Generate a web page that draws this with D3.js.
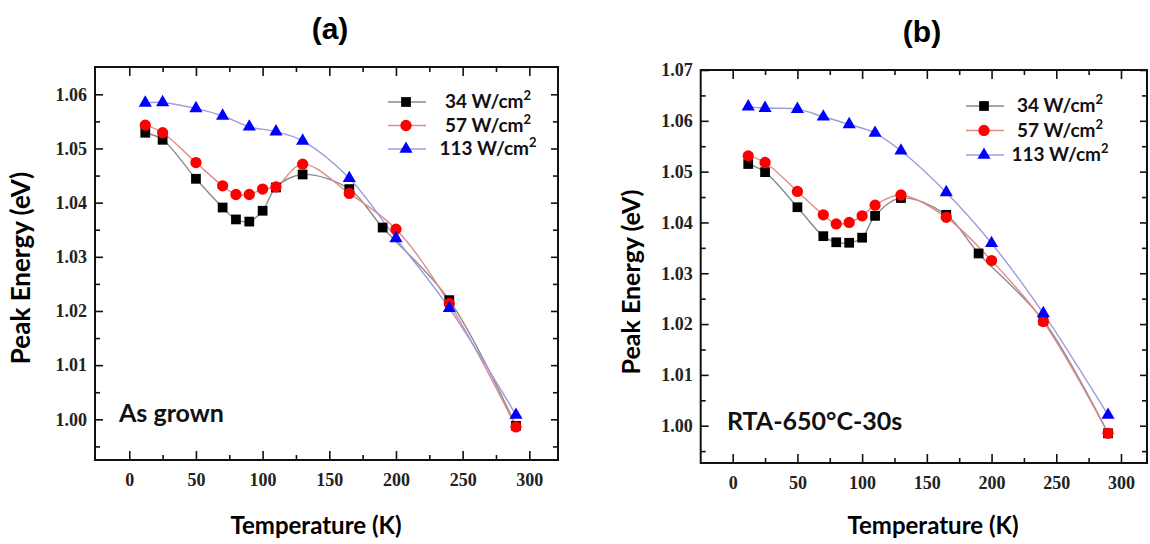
<!DOCTYPE html>
<html>
<head>
<meta charset="utf-8">
<script src="https://cdn.jsdelivr.net/npm/d3@7"></script>
<style>
  body { margin: 0; background: #fff; }
</style>
</head>
<body>
<div id="chart"></div>
<script>
// tick labels
const xTicks = [0, 50, 100, 150, 200, 250, 300];
const yTicksA = [1.00, 1.01, 1.02, 1.03, 1.04, 1.05, 1.06];
const yTicksB = [1.00, 1.01, 1.02, 1.03, 1.04, 1.05, 1.06, 1.07];
const powers = ["34", "57", "113"];

// (a) as grown
const tempA34 = [12, 25, 50, 70, 80, 90, 100, 110, 130, 165, 190, 240, 290];
const peakA34 = [1.0529, 1.0516, 1.0444, 1.0391, 1.0369, 1.0365, 1.0385, 1.0428, 1.0452, 1.0425, 1.0354, 1.0220, 0.9988];
const tempA57 = [12, 25, 50, 70, 80, 90, 100, 110, 130, 165, 200, 240, 290];
const peakA57 = [1.0543, 1.0529, 1.0474, 1.0431, 1.0415, 1.0415, 1.0425, 1.0429, 1.0471, 1.0417, 1.0351, 1.0214, 0.9986];
const tempA113 = [12, 25, 50, 70, 90, 110, 130, 165, 200, 240, 290];
const peakA113 = [1.0584, 1.0585, 1.0574, 1.0560, 1.0540, 1.0531, 1.0514, 1.0445, 1.0334, 1.0205, 1.0008];

// (b) RTA 650C 30s
const tempB34 = [12, 25, 50, 70, 80, 90, 100, 110, 130, 165, 190, 240, 290];
const peakB34 = [1.0515, 1.0499, 1.0430, 1.0373, 1.0361, 1.0360, 1.0370, 1.0413, 1.0448, 1.0415, 1.0339, 1.0207, 0.9985];
const tempB57 = [12, 25, 50, 70, 80, 90, 100, 110, 130, 165, 200, 240, 290];
const peakB57 = [1.0531, 1.0518, 1.0461, 1.0415, 1.0397, 1.0400, 1.0413, 1.0434, 1.0454, 1.0410, 1.0325, 1.0205, 0.9985];
const tempB113 = [12, 25, 50, 70, 90, 110, 130, 165, 200, 240, 290];
const peakB113 = [1.0628, 1.0625, 1.0623, 1.0608, 1.0593, 1.0576, 1.0541, 1.0459, 1.0359, 1.0221, 1.0021];

const zip = (t, e) => t.map((d, i) => ({T: d, E: e[i]}));

const styles = [
  {sym: d3.symbolSquare, size: 95, fill: "#000", line: "#8a8a8a"},
  {sym: d3.symbolCircle, size: 100, fill: "#ff0000", line: "#e08a8a"},
  {sym: d3.symbolTriangle, size: 75, fill: "#0000ff", line: "#9c9ce0"}
];

const svg = d3.select("#chart")
  .append("svg")
  .attr("width", 1150)
  .attr("height", 544)
  .style("font-family", "Lato, 'Open Sans', sans-serif");

function drawPanel(p) {
  const x = d3.scaleLinear().domain(p.xDomain).range([p.left, p.right]);
  const y = d3.scaleLinear().domain(p.yDomain).range([p.bottom, p.top]);
  const xMinor = d3.range(25, 300, 50);
  const yMinor = p.yTicks.slice(0, -1).map(d => d + 0.005).concat([p.yTicks[0] - 0.005]);

  const tickFont = g => g.selectAll("text")
    .style("font-family", "'Liberation Serif', 'DejaVu Serif', serif")
    .style("font-weight", "bold")
    .style("font-size", "18px")
    .attr("fill", "#222");
  const clean = g => { g.select(".domain").remove(); g.selectAll("line").attr("stroke", "#111").attr("stroke-width", 1.6); };

  // bottom / top
  svg.append("g").attr("transform", `translate(0,${p.bottom})`)
    .call(d3.axisBottom(x).tickValues(xTicks).tickSize(-9).tickPadding(13).tickFormat(d3.format("d")))
    .call(clean).call(tickFont);
  svg.append("g").attr("transform", `translate(0,${p.bottom})`)
    .call(d3.axisBottom(x).tickValues(xMinor).tickSize(-5).tickFormat(""))
    .call(clean);
  svg.append("g").attr("transform", `translate(0,${p.top})`)
    .call(d3.axisTop(x).tickValues(xTicks).tickSize(-9).tickFormat(""))
    .call(clean);
  svg.append("g").attr("transform", `translate(0,${p.top})`)
    .call(d3.axisTop(x).tickValues(xMinor).tickSize(-5).tickFormat(""))
    .call(clean);

  // left / right
  svg.append("g").attr("transform", `translate(${p.left},0)`)
    .call(d3.axisLeft(y).tickValues(p.yTicks).tickSize(-8).tickPadding(8).tickFormat(d3.format(".2f")))
    .call(clean).call(tickFont);
  svg.append("g").attr("transform", `translate(${p.left},0)`)
    .call(d3.axisLeft(y).tickValues(yMinor).tickSize(-5).tickFormat(""))
    .call(clean);
  svg.append("g").attr("transform", `translate(${p.right},0)`)
    .call(d3.axisRight(y).tickValues(p.yTicks).tickSize(-7).tickFormat(""))
    .call(clean);
  svg.append("g").attr("transform", `translate(${p.right},0)`)
    .call(d3.axisRight(y).tickValues(yMinor).tickSize(-5).tickFormat(""))
    .call(clean);

  // frame
  svg.append("rect")
    .attr("x", p.left).attr("y", p.top)
    .attr("width", p.right - p.left).attr("height", p.bottom - p.top)
    .attr("fill", "none").attr("stroke", "#111").attr("stroke-width", 2);

  const line = d3.line()
    .x(d => x(d.T)).y(d => y(d.E))
    .curve(d3.curveCatmullRom.alpha(0.5));

  p.series.forEach((s, i) => {
    svg.append("path").datum(s)
      .attr("d", line)
      .attr("fill", "none")
      .attr("stroke", styles[i].line)
      .attr("stroke-width", 1.4);
  });
  p.series.forEach((s, i) => {
    svg.selectAll(null)
      .data(s)
      .join("path")
        .attr("transform", d => `translate(${x(d.T)},${y(d.E)})`)
        .attr("d", d3.symbol(styles[i].sym, styles[i].size))
        .attr("fill", styles[i].fill);
  });

  // legend
  powers.forEach((pw, i) => {
    const ly = p.legY + i * p.legStep;
    svg.append("line")
      .attr("x1", p.legX).attr("x2", p.legX + 38)
      .attr("y1", ly).attr("y2", ly)
      .attr("stroke", styles[i].line).attr("stroke-width", 1.4);
    svg.append("path")
      .attr("transform", `translate(${p.legX + 18},${ly})`)
      .attr("d", d3.symbol(styles[i].sym, styles[i].size))
      .attr("fill", styles[i].fill);
    const t = svg.append("text")
      .attr("x", p.legTextX).attr("y", ly + 6)
      .attr("text-anchor", "middle")
      .style("font-size", "19px").style("font-weight", "bold")
      .attr("fill", "#111");
    t.append("tspan").text(pw + " W/cm");
    t.append("tspan").attr("dy", -8).style("font-size", "13px").text("2");
  });

  // annotation
  svg.append("text")
    .attr("x", p.noteX).attr("y", p.noteY)
    .style("font-size", "25px").style("font-weight", "bold")
    .attr("fill", "#111")
    .text(p.note);

  // titles
  svg.append("text")
    .attr("x", p.titleX).attr("y", p.titleY)
    .attr("text-anchor", "middle")
    .style("font-family", "'Liberation Sans Narrow', 'Liberation Sans', Arial, sans-serif")
    .style("font-size", "30px").style("font-weight", "bold")
    .text(p.title);

  svg.append("text")
    .attr("x", p.xLabelX).attr("y", 534)
    .attr("text-anchor", "middle")
    .style("font-size", "24px").style("font-weight", "bold")
    .text("Temperature (K)");

  svg.append("text")
    .attr("transform", `translate(${p.yLabelX},${p.yLabelY}) rotate(-90)`)
    .attr("text-anchor", "middle")
    .style("font-size", p.yLabelSize + "px").style("font-weight", "bold")
    .text("Peak Energy (eV)");
}

drawPanel({
  left: 95, right: 558, top: 67, bottom: 460,
  xDomain: [-25.7, 321.5], yDomain: [0.99249, 1.06504],
  yTicks: yTicksA,
  series: [zip(tempA34, peakA34), zip(tempA57, peakA57), zip(tempA113, peakA113)],
  legX: 388, legY: 102, legStep: 23.5, legTextX: 488,
  note: "As grown", noteX: 119, noteY: 422,
  title: "(a)", titleX: 330, titleY: 39,
  xLabelX: 316,
  yLabelX: 30, yLabelY: 268, yLabelSize: 26
});

drawPanel({
  left: 700.7, right: 1147, top: 70, bottom: 463,
  xDomain: [-24.72, 320.1], yDomain: [0.99266, 1.07],
  yTicks: yTicksB,
  series: [zip(tempB34, peakB34), zip(tempB57, peakB57), zip(tempB113, peakB113)],
  legX: 966, legY: 106, legStep: 24.5, legTextX: 1060,
  note: "RTA-650°C-30s", noteX: 727, noteY: 430,
  title: "(b)", titleX: 922, titleY: 42,
  xLabelX: 933,
  yLabelX: 640, yLabelY: 282, yLabelSize: 25
});
</script>
</body>
</html>
